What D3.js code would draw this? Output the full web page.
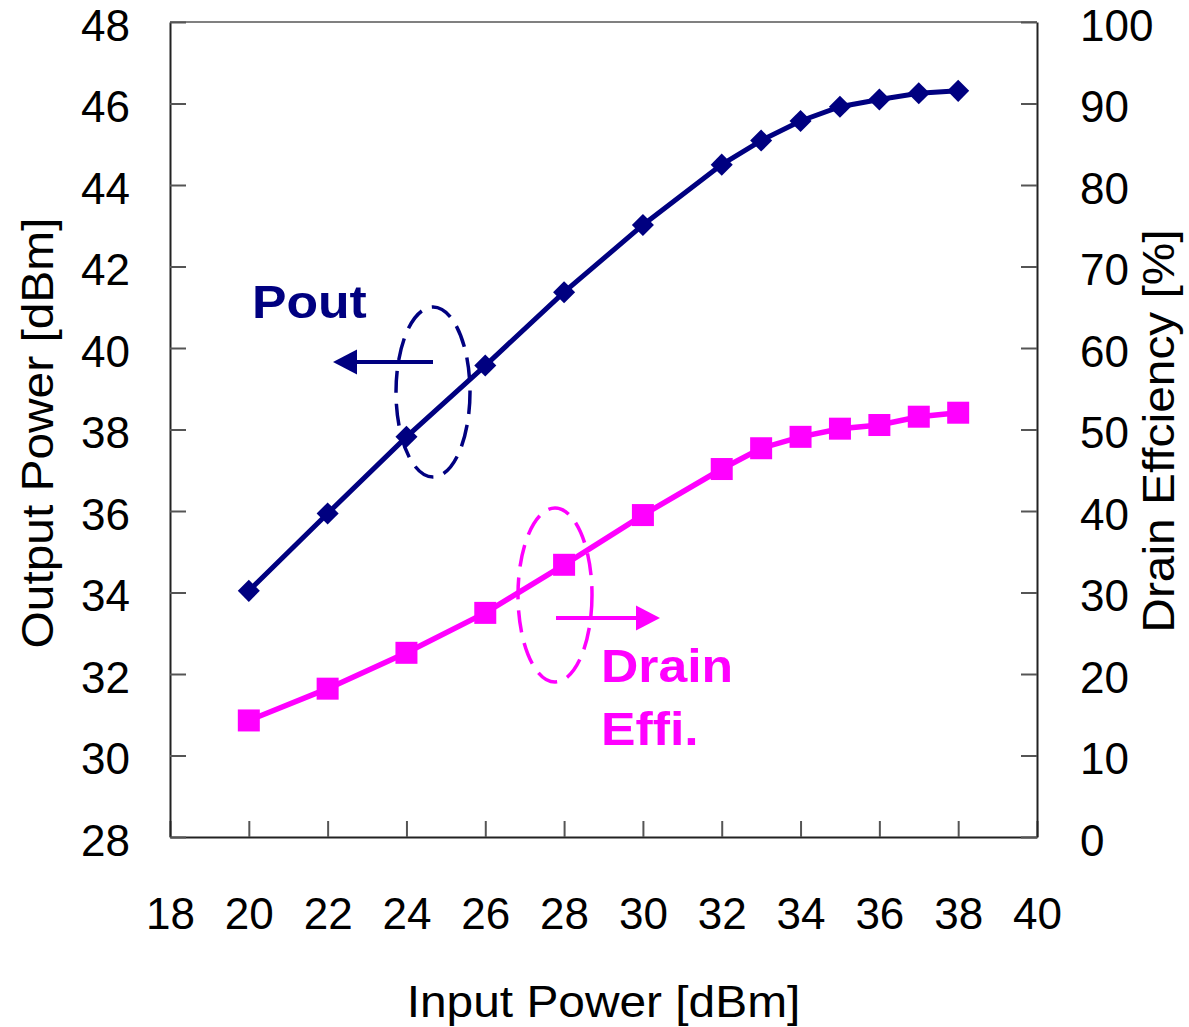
<!DOCTYPE html>
<html><head><meta charset="utf-8">
<script src="https://cdn.jsdelivr.net/npm/d3@7/dist/d3.min.js"></script>
<style>body{margin:0;background:#fff}svg{display:block}text{font-family:"Liberation Sans",Arial,sans-serif}</style>
</head><body>
<svg id="c" width="1189" height="1027"></svg>
<script>
const inputPower = [20,22,24,26,28,30,32,33,34,35,36,37,38];
const outputPower = [34.04,35.94,37.82,39.57,41.37,43.02,44.5,45.09,45.57,45.92,46.1,46.25,46.31];
const drainEff = [14.3,18.2,22.6,27.5,33.4,39.5,45.15,47.7,49.1,50.1,50.55,51.57,52.06];
const xTicks = [18,20,22,24,26,28,30,32,34,36,38,40];
const yLeftTicks = [28,30,32,34,36,38,40,42,44,46,48];
const yRightTicks = [0,10,20,30,40,50,60,70,80,90,100];

const svg = d3.select("#c");
const L=170,R=1037,T=22,B=837;
const x = d3.scaleLinear().domain([18,40]).range([L,R]);
const yL = d3.scaleLinear().domain([28,48]).range([B,T]);
const yR = d3.scaleLinear().domain([0,100]).range([B,T]);
const NAVY="#000080", MAG="#FF00FF";

// frame
svg.append("line").attr("x1",L).attr("x2",R).attr("y1",T).attr("y2",T).attr("stroke","#808080").attr("stroke-width",2);

function styleAxis(g){
  g.select(".domain").attr("stroke","#222").attr("stroke-width",2);
  g.selectAll(".tick line").attr("stroke","#555").attr("stroke-width",2);
  g.selectAll("text").attr("font-size",44).attr("fill","#000").attr("font-family","Liberation Sans, Arial, sans-serif");
}
const gx = svg.append("g").attr("transform",`translate(0,${B})`)
  .call(d3.axisBottom(x).tickValues(xTicks).tickSizeInner(-16).tickSizeOuter(0).tickPadding(61).tickFormat(d3.format("d")));
styleAxis(gx);
const gl = svg.append("g").attr("transform",`translate(${L},0)`)
  .call(d3.axisLeft(yL).tickValues(yLeftTicks).tickSizeInner(-16).tickSizeOuter(0).tickPadding(40).tickFormat(d3.format("d")));
styleAxis(gl);
gl.selectAll("text").attr("dy","0.42em");
const gr = svg.append("g").attr("transform",`translate(${R},0)`)
  .call(d3.axisRight(yR).tickValues(yRightTicks).tickSizeInner(-16).tickSizeOuter(0).tickPadding(43).tickFormat(d3.format("d")));
styleAxis(gr);
gr.selectAll("text").attr("dy","0.42em");

// titles
function stext(txt,tx,ty,rot,size,fill,weight,anchor){
  return svg.append("text").text(txt)
    .attr("transform",`translate(${tx},${ty}) rotate(${rot}) scale(1.1,1)`)
    .attr("font-size",size).attr("fill",fill).attr("font-weight",weight||"normal")
    .attr("text-anchor",anchor||"middle");
}
stext("Input Power [dBm]",(L+R)/2,1017,0,43.5,"#000");
stext("Output Power [dBm]",53,433,-90,43.5,"#000");
stext("Drain Effciency [%]",1174,431,-90,43.5,"#000");

// lines
const lineP = d3.line().x((d,i)=>x(inputPower[i])).y(d=>yL(d));
const lineD = d3.line().x((d,i)=>x(inputPower[i])).y(d=>yR(d));
svg.append("path").datum(outputPower).attr("d",lineP).attr("fill","none").attr("stroke",NAVY).attr("stroke-width",5);
svg.append("path").datum(drainEff).attr("d",lineD).attr("fill","none").attr("stroke",MAG).attr("stroke-width",5.5);
svg.append("g").selectAll("path").data(outputPower).join("path")
  .attr("transform",(d,i)=>`translate(${x(inputPower[i])},${yL(d)}) rotate(45)`)
  .attr("d","M-7.8,-7.8H7.8V7.8H-7.8Z").attr("fill",NAVY);
svg.append("g").selectAll("rect").data(drainEff).join("rect")
  .attr("x",(d,i)=>x(inputPower[i])-11).attr("y",d=>yR(d)-11).attr("width",22).attr("height",22).attr("fill",MAG);

// annotations
svg.append("ellipse").attr("cx",433).attr("cy",392).attr("rx",37).attr("ry",85)
  .attr("fill","none").attr("stroke",NAVY).attr("stroke-width",3.5).attr("stroke-dasharray","22,11");
svg.append("ellipse").attr("cx",555).attr("cy",595).attr("rx",37).attr("ry",87)
  .attr("fill","none").attr("stroke",MAG).attr("stroke-width",3.5).attr("stroke-dasharray","22,11");
svg.append("line").attr("x1",433).attr("x2",352).attr("y1",362).attr("y2",362).attr("stroke",NAVY).attr("stroke-width",4);
svg.append("path").attr("d","M333,362L357,349.5L357,374.5Z").attr("fill",NAVY);
svg.append("line").attr("x1",556).attr("x2",640).attr("y1",618).attr("y2",618).attr("stroke",MAG).attr("stroke-width",4);
svg.append("path").attr("d","M660,618L636,605.5L636,630.5Z").attr("fill",MAG);

stext("Pout",252,318,0,47,NAVY,"bold","start");
stext("Drain",601,682,0,47,MAG,"bold","start");
stext("Effi.",601,745,0,47,MAG,"bold","start");
</script>
</body></html>
